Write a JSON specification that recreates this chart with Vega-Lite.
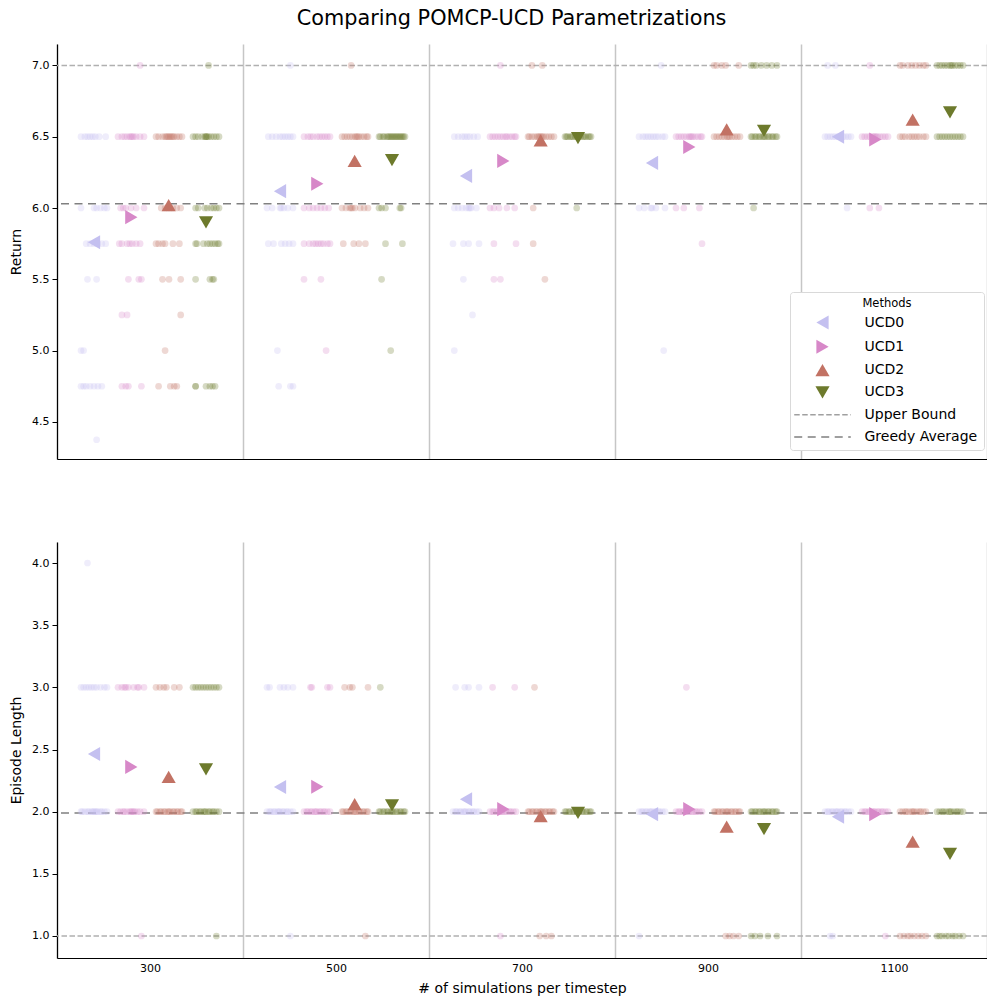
{
 "$schema": "https://vega.github.io/schema/vega-lite/v6.json",
 "title": {"text": "Comparing POMCP-UCD Parametrizations", "fontSize": 20.8, "fontWeight": "normal", "font": "DejaVu Sans", "color": "#000", "anchor": "middle", "offset": 14, "dx": 13},
 "padding": {"left": 9, "top": 8, "right": 0, "bottom": 2},
 "spacing": 83,
 "config": {
  "font": "DejaVu Sans",
  "view": {"stroke": null},
  "axis": {"labelFont": "DejaVu Sans", "labelFontSize": 11, "labelColor": "#000", "titleFont": "DejaVu Sans", "titleFontSize": 14, "titleFontWeight": "normal", "titleColor": "#000", "domainColor": "#000", "tickColor": "#000", "domainWidth": 1.2},
  "legend": {"labelFont": "DejaVu Sans", "titleFont": "DejaVu Sans"}
 },
 "datasets": {
  "linesR": [{"kind": "Upper Bound", "value": 7.0}, {"kind": "Greedy Average", "value": 6.03}],
  "linesE": [{"kind": "Upper Bound", "value": 1.0}, {"kind": "Greedy Average", "value": 1.99}],
  "meansR": [
   {"sims":300,"method":"UCD0","value":5.76},{"sims":300,"method":"UCD1","value":5.936},{"sims":300,"method":"UCD2","value":6.02},{"sims":300,"method":"UCD3","value":5.9},
   {"sims":500,"method":"UCD0","value":6.118},{"sims":500,"method":"UCD1","value":6.17},{"sims":500,"method":"UCD2","value":6.33},{"sims":500,"method":"UCD3","value":6.335},
   {"sims":700,"method":"UCD0","value":6.225},{"sims":700,"method":"UCD1","value":6.33},{"sims":700,"method":"UCD2","value":6.475},{"sims":700,"method":"UCD3","value":6.49},
   {"sims":900,"method":"UCD0","value":6.316},{"sims":900,"method":"UCD1","value":6.428},{"sims":900,"method":"UCD2","value":6.552},{"sims":900,"method":"UCD3","value":6.54},
   {"sims":1100,"method":"UCD0","value":6.5},{"sims":1100,"method":"UCD1","value":6.48},{"sims":1100,"method":"UCD2","value":6.62},{"sims":1100,"method":"UCD3","value":6.67}
  ],
  "meansE": [
   {"sims":300,"method":"UCD0","value":2.464},{"sims":300,"method":"UCD1","value":2.36},{"sims":300,"method":"UCD2","value":2.28},{"sims":300,"method":"UCD3","value":2.34},
   {"sims":500,"method":"UCD0","value":2.198},{"sims":500,"method":"UCD1","value":2.2},{"sims":500,"method":"UCD2","value":2.06},{"sims":500,"method":"UCD3","value":2.05},
   {"sims":700,"method":"UCD0","value":2.1},{"sims":700,"method":"UCD1","value":2.02},{"sims":700,"method":"UCD2","value":1.965},{"sims":700,"method":"UCD3","value":1.99},
   {"sims":900,"method":"UCD0","value":1.98},{"sims":900,"method":"UCD1","value":2.02},{"sims":900,"method":"UCD2","value":1.88},{"sims":900,"method":"UCD3","value":1.86},
   {"sims":1100,"method":"UCD0","value":1.96},{"sims":1100,"method":"UCD1","value":1.98},{"sims":1100,"method":"UCD2","value":1.76},{"sims":1100,"method":"UCD3","value":1.66}
  ],
  "R0": [
   {"sims":300,"value":6.5,"jitter":-10},{"sims":300,"value":6.5,"jitter":-7},{"sims":300,"value":6.5,"jitter":-5},{"sims":300,"value":6.5,"jitter":-3},{"sims":300,"value":6.5,"jitter":-1},{"sims":300,"value":6.5,"jitter":1},{"sims":300,"value":6.5,"jitter":4},{"sims":300,"value":6.5,"jitter":9},
   {"sims":300,"value":6.0,"jitter":-10},{"sims":300,"value":6.0,"jitter":0},{"sims":300,"value":6.0,"jitter":2},{"sims":300,"value":6.0,"jitter":5},{"sims":300,"value":6.0,"jitter":8},{"sims":300,"value":6.0,"jitter":10},
   {"sims":300,"value":5.75,"jitter":-6},{"sims":300,"value":5.75,"jitter":-3},{"sims":300,"value":5.75,"jitter":0},{"sims":300,"value":5.75,"jitter":3},{"sims":300,"value":5.75,"jitter":6},{"sims":300,"value":5.75,"jitter":9},
   {"sims":300,"value":5.5,"jitter":-5},{"sims":300,"value":5.5,"jitter":2},
   {"sims":300,"value":5.0,"jitter":-10},{"sims":300,"value":5.0,"jitter":-8},
   {"sims":300,"value":4.75,"jitter":-10},{"sims":300,"value":4.75,"jitter":-8},{"sims":300,"value":4.75,"jitter":-6},{"sims":300,"value":4.75,"jitter":-3},{"sims":300,"value":4.75,"jitter":0},{"sims":300,"value":4.75,"jitter":3},{"sims":300,"value":4.75,"jitter":6},
   {"sims":300,"value":4.375,"jitter":2},
   {"sims":500,"value":7.0,"jitter":8},
   {"sims":500,"value":6.5,"jitter":-9},{"sims":500,"value":6.5,"jitter":-6},{"sims":500,"value":6.5,"jitter":-3},{"sims":500,"value":6.5,"jitter":0},{"sims":500,"value":6.5,"jitter":2},{"sims":500,"value":6.5,"jitter":4},{"sims":500,"value":6.5,"jitter":6},{"sims":500,"value":6.5,"jitter":8},{"sims":500,"value":6.5,"jitter":10},
   {"sims":500,"value":6.0,"jitter":-10},{"sims":500,"value":6.0,"jitter":-6},{"sims":500,"value":6.0,"jitter":0},{"sims":500,"value":6.0,"jitter":1},{"sims":500,"value":6.0,"jitter":3},{"sims":500,"value":6.0,"jitter":6},{"sims":500,"value":6.0,"jitter":10},
   {"sims":500,"value":5.75,"jitter":-9},{"sims":500,"value":5.75,"jitter":-5},{"sims":500,"value":5.75,"jitter":1},{"sims":500,"value":5.75,"jitter":4},{"sims":500,"value":5.75,"jitter":7},{"sims":500,"value":5.75,"jitter":10},
   {"sims":500,"value":5.0,"jitter":-2},
   {"sims":500,"value":4.75,"jitter":-1},{"sims":500,"value":4.75,"jitter":8},{"sims":500,"value":4.75,"jitter":10},
   {"sims":700,"value":6.5,"jitter":-9},{"sims":700,"value":6.5,"jitter":-6},{"sims":700,"value":6.5,"jitter":-3},{"sims":700,"value":6.5,"jitter":-1},{"sims":700,"value":6.5,"jitter":1},{"sims":700,"value":6.5,"jitter":3},{"sims":700,"value":6.5,"jitter":6},{"sims":700,"value":6.5,"jitter":9},
   {"sims":700,"value":6.0,"jitter":-9},{"sims":700,"value":6.0,"jitter":-6},{"sims":700,"value":6.0,"jitter":-3},{"sims":700,"value":6.0,"jitter":0},{"sims":700,"value":6.0,"jitter":2},{"sims":700,"value":6.0,"jitter":3},{"sims":700,"value":6.0,"jitter":4},{"sims":700,"value":6.0,"jitter":8},
   {"sims":700,"value":5.75,"jitter":-10},{"sims":700,"value":5.75,"jitter":-2},{"sims":700,"value":5.75,"jitter":2},{"sims":700,"value":5.75,"jitter":10},
   {"sims":700,"value":5.5,"jitter":-2},{"sims":700,"value":5.25,"jitter":5},{"sims":700,"value":5.0,"jitter":-9},
   {"sims":900,"value":7.0,"jitter":7},
   {"sims":900,"value":6.5,"jitter":-10},{"sims":900,"value":6.5,"jitter":-7},{"sims":900,"value":6.5,"jitter":-5},{"sims":900,"value":6.5,"jitter":-3},{"sims":900,"value":6.5,"jitter":-1},{"sims":900,"value":6.5,"jitter":1},{"sims":900,"value":6.5,"jitter":3},{"sims":900,"value":6.5,"jitter":5},{"sims":900,"value":6.5,"jitter":8},{"sims":900,"value":6.5,"jitter":10},
   {"sims":900,"value":6.0,"jitter":-10},{"sims":900,"value":6.0,"jitter":-6},{"sims":900,"value":6.0,"jitter":-1},{"sims":900,"value":6.0,"jitter":0},{"sims":900,"value":6.0,"jitter":3},{"sims":900,"value":6.0,"jitter":10},
   {"sims":900,"value":5.0,"jitter":9},
   {"sims":1100,"value":7.0,"jitter":-8},{"sims":1100,"value":7.0,"jitter":-2},
   {"sims":1100,"value":6.5,"jitter":-10},{"sims":1100,"value":6.5,"jitter":-8},{"sims":1100,"value":6.5,"jitter":-6},{"sims":1100,"value":6.5,"jitter":-4},{"sims":1100,"value":6.5,"jitter":-2},{"sims":1100,"value":6.5,"jitter":0},{"sims":1100,"value":6.5,"jitter":2},{"sims":1100,"value":6.5,"jitter":4},{"sims":1100,"value":6.5,"jitter":6},{"sims":1100,"value":6.5,"jitter":8},{"sims":1100,"value":6.5,"jitter":10},
   {"sims":1100,"value":6.0,"jitter":7}
  ],
  "R1": [
   {"sims":300,"value":7.0,"jitter":7},
   {"sims":300,"value":6.5,"jitter":-10},{"sims":300,"value":6.5,"jitter":-7},{"sims":300,"value":6.5,"jitter":-5},{"sims":300,"value":6.5,"jitter":-3},{"sims":300,"value":6.5,"jitter":-1},{"sims":300,"value":6.5,"jitter":0},{"sims":300,"value":6.5,"jitter":1},{"sims":300,"value":6.5,"jitter":2},{"sims":300,"value":6.5,"jitter":4},{"sims":300,"value":6.5,"jitter":7},{"sims":300,"value":6.5,"jitter":10},
   {"sims":300,"value":6.0,"jitter":-8},{"sims":300,"value":6.0,"jitter":-6},{"sims":300,"value":6.0,"jitter":-4},{"sims":300,"value":6.0,"jitter":0},{"sims":300,"value":6.0,"jitter":4},{"sims":300,"value":6.0,"jitter":10},
   {"sims":300,"value":5.75,"jitter":-9},{"sims":300,"value":5.75,"jitter":-7},{"sims":300,"value":5.75,"jitter":-3},{"sims":300,"value":5.75,"jitter":-1},{"sims":300,"value":5.75,"jitter":1},{"sims":300,"value":5.75,"jitter":4},{"sims":300,"value":5.75,"jitter":7},
   {"sims":300,"value":5.5,"jitter":-2},{"sims":300,"value":5.5,"jitter":6},{"sims":300,"value":5.5,"jitter":8},
   {"sims":300,"value":5.25,"jitter":-7},{"sims":300,"value":5.25,"jitter":-3},
   {"sims":300,"value":4.75,"jitter":-7},{"sims":300,"value":4.75,"jitter":-4},{"sims":300,"value":4.75,"jitter":-2},{"sims":300,"value":4.75,"jitter":8},
   {"sims":500,"value":6.5,"jitter":-10},{"sims":500,"value":6.5,"jitter":-7},{"sims":500,"value":6.5,"jitter":-5},{"sims":500,"value":6.5,"jitter":-3},{"sims":500,"value":6.5,"jitter":0},{"sims":500,"value":6.5,"jitter":2},{"sims":500,"value":6.5,"jitter":4},{"sims":500,"value":6.5,"jitter":6},{"sims":500,"value":6.5,"jitter":8},{"sims":500,"value":6.5,"jitter":10},
   {"sims":500,"value":6.0,"jitter":-10},{"sims":500,"value":6.0,"jitter":-6},{"sims":500,"value":6.0,"jitter":-3},{"sims":500,"value":6.0,"jitter":0},{"sims":500,"value":6.0,"jitter":3},{"sims":500,"value":6.0,"jitter":6},{"sims":500,"value":6.0,"jitter":9},
   {"sims":500,"value":5.75,"jitter":-10},{"sims":500,"value":5.75,"jitter":-6},{"sims":500,"value":5.75,"jitter":-3},{"sims":500,"value":5.75,"jitter":-1},{"sims":500,"value":5.75,"jitter":1},{"sims":500,"value":5.75,"jitter":3},{"sims":500,"value":5.75,"jitter":5},{"sims":500,"value":5.75,"jitter":8},{"sims":500,"value":5.75,"jitter":10},
   {"sims":500,"value":5.5,"jitter":-10},{"sims":500,"value":5.5,"jitter":3},
   {"sims":500,"value":5.0,"jitter":7},
   {"sims":700,"value":7.0,"jitter":-2},
   {"sims":700,"value":6.5,"jitter":-10},{"sims":700,"value":6.5,"jitter":-8},{"sims":700,"value":6.5,"jitter":-6},{"sims":700,"value":6.5,"jitter":-4},{"sims":700,"value":6.5,"jitter":-2},{"sims":700,"value":6.5,"jitter":0},{"sims":700,"value":6.5,"jitter":2},{"sims":700,"value":6.5,"jitter":3},{"sims":700,"value":6.5,"jitter":5},{"sims":700,"value":6.5,"jitter":7},{"sims":700,"value":6.5,"jitter":9},{"sims":700,"value":6.5,"jitter":10},
   {"sims":700,"value":6.0,"jitter":-10},{"sims":700,"value":6.0,"jitter":-7},{"sims":700,"value":6.0,"jitter":-3},{"sims":700,"value":6.0,"jitter":3},{"sims":700,"value":6.0,"jitter":9},
   {"sims":700,"value":5.75,"jitter":-7},{"sims":700,"value":5.75,"jitter":10},
   {"sims":700,"value":5.5,"jitter":-7},{"sims":700,"value":5.5,"jitter":-2},
   {"sims":900,"value":6.5,"jitter":-10},{"sims":900,"value":6.5,"jitter":-8},{"sims":900,"value":6.5,"jitter":-6},{"sims":900,"value":6.5,"jitter":-4},{"sims":900,"value":6.5,"jitter":-2},{"sims":900,"value":6.5,"jitter":0},{"sims":900,"value":6.5,"jitter":1},{"sims":900,"value":6.5,"jitter":2},{"sims":900,"value":6.5,"jitter":3},{"sims":900,"value":6.5,"jitter":5},{"sims":900,"value":6.5,"jitter":7},{"sims":900,"value":6.5,"jitter":9},{"sims":900,"value":6.5,"jitter":10},
   {"sims":900,"value":6.0,"jitter":-10},{"sims":900,"value":6.0,"jitter":-4},{"sims":900,"value":6.0,"jitter":8},
   {"sims":900,"value":5.75,"jitter":10},
   {"sims":1100,"value":7.0,"jitter":-4},
   {"sims":1100,"value":6.5,"jitter":-10},{"sims":1100,"value":6.5,"jitter":-8},{"sims":1100,"value":6.5,"jitter":-6},{"sims":1100,"value":6.5,"jitter":-4},{"sims":1100,"value":6.5,"jitter":-2},{"sims":1100,"value":6.5,"jitter":-1},{"sims":1100,"value":6.5,"jitter":0},{"sims":1100,"value":6.5,"jitter":1},{"sims":1100,"value":6.5,"jitter":2},{"sims":1100,"value":6.5,"jitter":4},{"sims":1100,"value":6.5,"jitter":6},{"sims":1100,"value":6.5,"jitter":8},{"sims":1100,"value":6.5,"jitter":10},
   {"sims":1100,"value":6.0,"jitter":-4},{"sims":1100,"value":6.0,"jitter":3}
  ],
  "R2": [
   {"sims":300,"value":6.5,"jitter":-10},{"sims":300,"value":6.5,"jitter":-8},{"sims":300,"value":6.5,"jitter":-5},{"sims":300,"value":6.5,"jitter":-3},{"sims":300,"value":6.5,"jitter":-2},{"sims":300,"value":6.5,"jitter":-1},{"sims":300,"value":6.5,"jitter":0},{"sims":300,"value":6.5,"jitter":1},{"sims":300,"value":6.5,"jitter":2},{"sims":300,"value":6.5,"jitter":3},{"sims":300,"value":6.5,"jitter":4},{"sims":300,"value":6.5,"jitter":6},{"sims":300,"value":6.5,"jitter":8},{"sims":300,"value":6.5,"jitter":10},
   {"sims":300,"value":6.0,"jitter":-6},{"sims":300,"value":6.0,"jitter":-3},{"sims":300,"value":6.0,"jitter":-1},{"sims":300,"value":6.0,"jitter":1},{"sims":300,"value":6.0,"jitter":3},{"sims":300,"value":6.0,"jitter":6},{"sims":300,"value":6.0,"jitter":9},
   {"sims":300,"value":5.75,"jitter":-10},{"sims":300,"value":5.75,"jitter":-8},{"sims":300,"value":5.75,"jitter":-5},{"sims":300,"value":5.75,"jitter":-3},{"sims":300,"value":5.75,"jitter":3},{"sims":300,"value":5.75,"jitter":8},
   {"sims":300,"value":5.5,"jitter":-5},{"sims":300,"value":5.5,"jitter":0},{"sims":300,"value":5.5,"jitter":9},
   {"sims":300,"value":5.25,"jitter":9},{"sims":300,"value":5.0,"jitter":-3},
   {"sims":300,"value":4.75,"jitter":-8},{"sims":300,"value":4.75,"jitter":1},{"sims":300,"value":4.75,"jitter":4},{"sims":300,"value":4.75,"jitter":6},
   {"sims":500,"value":7.0,"jitter":-3},
   {"sims":500,"value":6.5,"jitter":-10},{"sims":500,"value":6.5,"jitter":-8},{"sims":500,"value":6.5,"jitter":-6},{"sims":500,"value":6.5,"jitter":-4},{"sims":500,"value":6.5,"jitter":-2},{"sims":500,"value":6.5,"jitter":0},{"sims":500,"value":6.5,"jitter":1},{"sims":500,"value":6.5,"jitter":2},{"sims":500,"value":6.5,"jitter":3},{"sims":500,"value":6.5,"jitter":5},{"sims":500,"value":6.5,"jitter":7},{"sims":500,"value":6.5,"jitter":9},{"sims":500,"value":6.5,"jitter":10},
   {"sims":500,"value":6.0,"jitter":-10},{"sims":500,"value":6.0,"jitter":-7},{"sims":500,"value":6.0,"jitter":-4},{"sims":500,"value":6.0,"jitter":-3},{"sims":500,"value":6.0,"jitter":-2},{"sims":500,"value":6.0,"jitter":0},{"sims":500,"value":6.0,"jitter":4},{"sims":500,"value":6.0,"jitter":7},{"sims":500,"value":6.0,"jitter":10},
   {"sims":500,"value":5.75,"jitter":-9},{"sims":500,"value":5.75,"jitter":-1},{"sims":500,"value":5.75,"jitter":3},{"sims":500,"value":5.75,"jitter":8},
   {"sims":700,"value":7.0,"jitter":-7},{"sims":700,"value":7.0,"jitter":1},
   {"sims":700,"value":6.5,"jitter":-10},{"sims":700,"value":6.5,"jitter":-9},{"sims":700,"value":6.5,"jitter":-7},{"sims":700,"value":6.5,"jitter":-5},{"sims":700,"value":6.5,"jitter":-3},{"sims":700,"value":6.5,"jitter":-2},{"sims":700,"value":6.5,"jitter":-1},{"sims":700,"value":6.5,"jitter":0},{"sims":700,"value":6.5,"jitter":1},{"sims":700,"value":6.5,"jitter":2},{"sims":700,"value":6.5,"jitter":4},{"sims":700,"value":6.5,"jitter":6},{"sims":700,"value":6.5,"jitter":8},{"sims":700,"value":6.5,"jitter":10},
   {"sims":700,"value":6.0,"jitter":-6},{"sims":700,"value":5.75,"jitter":-6},{"sims":700,"value":5.5,"jitter":3},
   {"sims":900,"value":7.0,"jitter":-10},{"sims":900,"value":7.0,"jitter":-8},{"sims":900,"value":7.0,"jitter":-4},{"sims":900,"value":7.0,"jitter":-1},{"sims":900,"value":7.0,"jitter":9},
   {"sims":900,"value":6.5,"jitter":-10},{"sims":900,"value":6.5,"jitter":-8},{"sims":900,"value":6.5,"jitter":-6},{"sims":900,"value":6.5,"jitter":-4},{"sims":900,"value":6.5,"jitter":-2},{"sims":900,"value":6.5,"jitter":0},{"sims":900,"value":6.5,"jitter":1},{"sims":900,"value":6.5,"jitter":2},{"sims":900,"value":6.5,"jitter":4},{"sims":900,"value":6.5,"jitter":6},{"sims":900,"value":6.5,"jitter":8},{"sims":900,"value":6.5,"jitter":10},
   {"sims":1100,"value":7.0,"jitter":-10},{"sims":1100,"value":7.0,"jitter":-8},{"sims":1100,"value":7.0,"jitter":-4},{"sims":1100,"value":7.0,"jitter":-1},{"sims":1100,"value":7.0,"jitter":2},{"sims":1100,"value":7.0,"jitter":5},{"sims":1100,"value":7.0,"jitter":8},{"sims":1100,"value":7.0,"jitter":10},
   {"sims":1100,"value":6.5,"jitter":-10},{"sims":1100,"value":6.5,"jitter":-8},{"sims":1100,"value":6.5,"jitter":-6},{"sims":1100,"value":6.5,"jitter":-3},{"sims":1100,"value":6.5,"jitter":-1},{"sims":1100,"value":6.5,"jitter":1},{"sims":1100,"value":6.5,"jitter":3},{"sims":1100,"value":6.5,"jitter":5},{"sims":1100,"value":6.5,"jitter":8},{"sims":1100,"value":6.5,"jitter":10}
  ],
  "R3": [
   {"sims":300,"value":7.0,"jitter":2},
   {"sims":300,"value":6.5,"jitter":-10},{"sims":300,"value":6.5,"jitter":-8},{"sims":300,"value":6.5,"jitter":-6},{"sims":300,"value":6.5,"jitter":-3},{"sims":300,"value":6.5,"jitter":-1},{"sims":300,"value":6.5,"jitter":0},{"sims":300,"value":6.5,"jitter":0},{"sims":300,"value":6.5,"jitter":1},{"sims":300,"value":6.5,"jitter":2},{"sims":300,"value":6.5,"jitter":4},{"sims":300,"value":6.5,"jitter":6},{"sims":300,"value":6.5,"jitter":8},{"sims":300,"value":6.5,"jitter":10},
   {"sims":300,"value":6.0,"jitter":-8},{"sims":300,"value":6.0,"jitter":-6},{"sims":300,"value":6.0,"jitter":-1},{"sims":300,"value":6.0,"jitter":1},{"sims":300,"value":6.0,"jitter":4},{"sims":300,"value":6.0,"jitter":6},{"sims":300,"value":6.0,"jitter":8},{"sims":300,"value":6.0,"jitter":10},
   {"sims":300,"value":5.75,"jitter":-8},{"sims":300,"value":5.75,"jitter":-7},{"sims":300,"value":5.75,"jitter":-2},{"sims":300,"value":5.75,"jitter":1},{"sims":300,"value":5.75,"jitter":3},{"sims":300,"value":5.75,"jitter":5},{"sims":300,"value":5.75,"jitter":7},{"sims":300,"value":5.75,"jitter":9},{"sims":300,"value":5.75,"jitter":10},
   {"sims":300,"value":5.5,"jitter":-8},{"sims":300,"value":5.5,"jitter":3},{"sims":300,"value":5.5,"jitter":5},{"sims":300,"value":5.5,"jitter":6},
   {"sims":300,"value":4.75,"jitter":-8},{"sims":300,"value":4.75,"jitter":-8},{"sims":300,"value":4.75,"jitter":0},{"sims":300,"value":4.75,"jitter":3},{"sims":300,"value":4.75,"jitter":5},{"sims":300,"value":4.75,"jitter":7},
   {"sims":500,"value":6.5,"jitter":-10},{"sims":500,"value":6.5,"jitter":-9},{"sims":500,"value":6.5,"jitter":-7},{"sims":500,"value":6.5,"jitter":-6},{"sims":500,"value":6.5,"jitter":-4},{"sims":500,"value":6.5,"jitter":-3},{"sims":500,"value":6.5,"jitter":-2},{"sims":500,"value":6.5,"jitter":-1},{"sims":500,"value":6.5,"jitter":0},{"sims":500,"value":6.5,"jitter":1},{"sims":500,"value":6.5,"jitter":2},{"sims":500,"value":6.5,"jitter":3},{"sims":500,"value":6.5,"jitter":4},{"sims":500,"value":6.5,"jitter":5},{"sims":500,"value":6.5,"jitter":6},{"sims":500,"value":6.5,"jitter":7},{"sims":500,"value":6.5,"jitter":8},{"sims":500,"value":6.5,"jitter":9},{"sims":500,"value":6.5,"jitter":10},
   {"sims":500,"value":6.0,"jitter":-10},{"sims":500,"value":6.0,"jitter":-8},{"sims":500,"value":6.0,"jitter":-5},{"sims":500,"value":6.0,"jitter":6},{"sims":500,"value":6.0,"jitter":7},
   {"sims":500,"value":5.75,"jitter":-5},{"sims":500,"value":5.75,"jitter":8},
   {"sims":500,"value":5.5,"jitter":-8},{"sims":500,"value":5.0,"jitter":-1},
   {"sims":700,"value":6.5,"jitter":-10},{"sims":700,"value":6.5,"jitter":-9},{"sims":700,"value":6.5,"jitter":-8},{"sims":700,"value":6.5,"jitter":-6},{"sims":700,"value":6.5,"jitter":-5},{"sims":700,"value":6.5,"jitter":-4},{"sims":700,"value":6.5,"jitter":-2},{"sims":700,"value":6.5,"jitter":-1},{"sims":700,"value":6.5,"jitter":0},{"sims":700,"value":6.5,"jitter":1},{"sims":700,"value":6.5,"jitter":2},{"sims":700,"value":6.5,"jitter":4},{"sims":700,"value":6.5,"jitter":5},{"sims":700,"value":6.5,"jitter":6},{"sims":700,"value":6.5,"jitter":8},{"sims":700,"value":6.5,"jitter":9},{"sims":700,"value":6.5,"jitter":10},
   {"sims":700,"value":6.0,"jitter":-1},
   {"sims":900,"value":7.0,"jitter":-10},{"sims":900,"value":7.0,"jitter":-8},{"sims":900,"value":7.0,"jitter":-6},{"sims":900,"value":7.0,"jitter":-2},{"sims":900,"value":7.0,"jitter":2},{"sims":900,"value":7.0,"jitter":6},{"sims":900,"value":7.0,"jitter":10},
   {"sims":900,"value":6.5,"jitter":-10},{"sims":900,"value":6.5,"jitter":-9},{"sims":900,"value":6.5,"jitter":-7},{"sims":900,"value":6.5,"jitter":-6},{"sims":900,"value":6.5,"jitter":-4},{"sims":900,"value":6.5,"jitter":-3},{"sims":900,"value":6.5,"jitter":-1},{"sims":900,"value":6.5,"jitter":0},{"sims":900,"value":6.5,"jitter":1},{"sims":900,"value":6.5,"jitter":3},{"sims":900,"value":6.5,"jitter":4},{"sims":900,"value":6.5,"jitter":6},{"sims":900,"value":6.5,"jitter":7},{"sims":900,"value":6.5,"jitter":9},{"sims":900,"value":6.5,"jitter":10},
   {"sims":900,"value":6.0,"jitter":-8},
   {"sims":1100,"value":7.0,"jitter":-10},{"sims":1100,"value":7.0,"jitter":-8},{"sims":1100,"value":7.0,"jitter":-6},{"sims":1100,"value":7.0,"jitter":-4},{"sims":1100,"value":7.0,"jitter":-2},{"sims":1100,"value":7.0,"jitter":0},{"sims":1100,"value":7.0,"jitter":1},{"sims":1100,"value":7.0,"jitter":2},{"sims":1100,"value":7.0,"jitter":4},{"sims":1100,"value":7.0,"jitter":6},{"sims":1100,"value":7.0,"jitter":8},{"sims":1100,"value":7.0,"jitter":10},
   {"sims":1100,"value":6.5,"jitter":-10},{"sims":1100,"value":6.5,"jitter":-8},{"sims":1100,"value":6.5,"jitter":-6},{"sims":1100,"value":6.5,"jitter":-4},{"sims":1100,"value":6.5,"jitter":-2},{"sims":1100,"value":6.5,"jitter":0},{"sims":1100,"value":6.5,"jitter":2},{"sims":1100,"value":6.5,"jitter":4},{"sims":1100,"value":6.5,"jitter":6},{"sims":1100,"value":6.5,"jitter":8},{"sims":1100,"value":6.5,"jitter":10}
  ],
  "E0": [
   {"sims":300,"value":4,"jitter":-5},
   {"sims":300,"value":3,"jitter":-10},{"sims":300,"value":3,"jitter":-8},{"sims":300,"value":3,"jitter":-6},{"sims":300,"value":3,"jitter":-4},{"sims":300,"value":3,"jitter":-2},{"sims":300,"value":3,"jitter":0},{"sims":300,"value":3,"jitter":2},{"sims":300,"value":3,"jitter":5},{"sims":300,"value":3,"jitter":8},{"sims":300,"value":3,"jitter":10},
   {"sims":300,"value":2,"jitter":-10},{"sims":300,"value":2,"jitter":-9},{"sims":300,"value":2,"jitter":-7},{"sims":300,"value":2,"jitter":-5},{"sims":300,"value":2,"jitter":-4},{"sims":300,"value":2,"jitter":-2},{"sims":300,"value":2,"jitter":-1},{"sims":300,"value":2,"jitter":0},{"sims":300,"value":2,"jitter":1},{"sims":300,"value":2,"jitter":2},{"sims":300,"value":2,"jitter":3},{"sims":300,"value":2,"jitter":5},{"sims":300,"value":2,"jitter":6},{"sims":300,"value":2,"jitter":8},{"sims":300,"value":2,"jitter":10},
   {"sims":500,"value":3,"jitter":-10},{"sims":500,"value":3,"jitter":-8},{"sims":500,"value":3,"jitter":0},{"sims":500,"value":3,"jitter":3},{"sims":500,"value":3,"jitter":6},{"sims":500,"value":3,"jitter":10},
   {"sims":500,"value":2,"jitter":-10},{"sims":500,"value":2,"jitter":-8},{"sims":500,"value":2,"jitter":-7},{"sims":500,"value":2,"jitter":-5},{"sims":500,"value":2,"jitter":-4},{"sims":500,"value":2,"jitter":-2},{"sims":500,"value":2,"jitter":-1},{"sims":500,"value":2,"jitter":0},{"sims":500,"value":2,"jitter":2},{"sims":500,"value":2,"jitter":3},{"sims":500,"value":2,"jitter":5},{"sims":500,"value":2,"jitter":6},{"sims":500,"value":2,"jitter":8},{"sims":500,"value":2,"jitter":10},
   {"sims":500,"value":1,"jitter":8},
   {"sims":700,"value":3,"jitter":-8},{"sims":700,"value":3,"jitter":-1},{"sims":700,"value":3,"jitter":2},{"sims":700,"value":3,"jitter":10},
   {"sims":700,"value":2,"jitter":-10},{"sims":700,"value":2,"jitter":-8},{"sims":700,"value":2,"jitter":-7},{"sims":700,"value":2,"jitter":-5},{"sims":700,"value":2,"jitter":-4},{"sims":700,"value":2,"jitter":-2},{"sims":700,"value":2,"jitter":-1},{"sims":700,"value":2,"jitter":0},{"sims":700,"value":2,"jitter":2},{"sims":700,"value":2,"jitter":3},{"sims":700,"value":2,"jitter":5},{"sims":700,"value":2,"jitter":6},{"sims":700,"value":2,"jitter":8},{"sims":700,"value":2,"jitter":10},
   {"sims":900,"value":2,"jitter":-10},{"sims":900,"value":2,"jitter":-8},{"sims":900,"value":2,"jitter":-7},{"sims":900,"value":2,"jitter":-5},{"sims":900,"value":2,"jitter":-4},{"sims":900,"value":2,"jitter":-2},{"sims":900,"value":2,"jitter":-1},{"sims":900,"value":2,"jitter":0},{"sims":900,"value":2,"jitter":2},{"sims":900,"value":2,"jitter":3},{"sims":900,"value":2,"jitter":5},{"sims":900,"value":2,"jitter":6},{"sims":900,"value":2,"jitter":8},{"sims":900,"value":2,"jitter":10},
   {"sims":900,"value":1,"jitter":-10},
   {"sims":1100,"value":2,"jitter":-10},{"sims":1100,"value":2,"jitter":-8},{"sims":1100,"value":2,"jitter":-7},{"sims":1100,"value":2,"jitter":-5},{"sims":1100,"value":2,"jitter":-4},{"sims":1100,"value":2,"jitter":-2},{"sims":1100,"value":2,"jitter":-1},{"sims":1100,"value":2,"jitter":0},{"sims":1100,"value":2,"jitter":2},{"sims":1100,"value":2,"jitter":3},{"sims":1100,"value":2,"jitter":5},{"sims":1100,"value":2,"jitter":6},{"sims":1100,"value":2,"jitter":8},{"sims":1100,"value":2,"jitter":10},
   {"sims":1100,"value":1,"jitter":-6},{"sims":1100,"value":1,"jitter":-4}
  ],
  "E1": [
   {"sims":300,"value":3,"jitter":-10},{"sims":300,"value":3,"jitter":-7},{"sims":300,"value":3,"jitter":-5},{"sims":300,"value":3,"jitter":-4},{"sims":300,"value":3,"jitter":-2},{"sims":300,"value":3,"jitter":2},{"sims":300,"value":3,"jitter":5},{"sims":300,"value":3,"jitter":6},{"sims":300,"value":3,"jitter":10},
   {"sims":300,"value":2,"jitter":-10},{"sims":300,"value":2,"jitter":-8},{"sims":300,"value":2,"jitter":-6},{"sims":300,"value":2,"jitter":-5},{"sims":300,"value":2,"jitter":-3},{"sims":300,"value":2,"jitter":-1},{"sims":300,"value":2,"jitter":0},{"sims":300,"value":2,"jitter":1},{"sims":300,"value":2,"jitter":2},{"sims":300,"value":2,"jitter":3},{"sims":300,"value":2,"jitter":5},{"sims":300,"value":2,"jitter":7},{"sims":300,"value":2,"jitter":10},
   {"sims":300,"value":1,"jitter":8},
   {"sims":500,"value":3,"jitter":-5},{"sims":500,"value":3,"jitter":-4},{"sims":500,"value":3,"jitter":8},{"sims":500,"value":3,"jitter":10},
   {"sims":500,"value":2,"jitter":-10},{"sims":500,"value":2,"jitter":-8},{"sims":500,"value":2,"jitter":-7},{"sims":500,"value":2,"jitter":-5},{"sims":500,"value":2,"jitter":-4},{"sims":500,"value":2,"jitter":-2},{"sims":500,"value":2,"jitter":-1},{"sims":500,"value":2,"jitter":0},{"sims":500,"value":2,"jitter":2},{"sims":500,"value":2,"jitter":3},{"sims":500,"value":2,"jitter":5},{"sims":500,"value":2,"jitter":6},{"sims":500,"value":2,"jitter":8},{"sims":500,"value":2,"jitter":10},
   {"sims":700,"value":3,"jitter":-8},{"sims":700,"value":3,"jitter":9},
   {"sims":700,"value":2,"jitter":-10},{"sims":700,"value":2,"jitter":-8},{"sims":700,"value":2,"jitter":-7},{"sims":700,"value":2,"jitter":-5},{"sims":700,"value":2,"jitter":-4},{"sims":700,"value":2,"jitter":-2},{"sims":700,"value":2,"jitter":-1},{"sims":700,"value":2,"jitter":0},{"sims":700,"value":2,"jitter":2},{"sims":700,"value":2,"jitter":3},{"sims":700,"value":2,"jitter":5},{"sims":700,"value":2,"jitter":6},{"sims":700,"value":2,"jitter":8},{"sims":700,"value":2,"jitter":10},
   {"sims":700,"value":1,"jitter":-2},
   {"sims":900,"value":3,"jitter":-2},
   {"sims":900,"value":2,"jitter":-10},{"sims":900,"value":2,"jitter":-8},{"sims":900,"value":2,"jitter":-7},{"sims":900,"value":2,"jitter":-5},{"sims":900,"value":2,"jitter":-4},{"sims":900,"value":2,"jitter":-2},{"sims":900,"value":2,"jitter":-1},{"sims":900,"value":2,"jitter":0},{"sims":900,"value":2,"jitter":2},{"sims":900,"value":2,"jitter":3},{"sims":900,"value":2,"jitter":5},{"sims":900,"value":2,"jitter":6},{"sims":900,"value":2,"jitter":8},{"sims":900,"value":2,"jitter":10},
   {"sims":1100,"value":2,"jitter":-10},{"sims":1100,"value":2,"jitter":-8},{"sims":1100,"value":2,"jitter":-7},{"sims":1100,"value":2,"jitter":-5},{"sims":1100,"value":2,"jitter":-4},{"sims":1100,"value":2,"jitter":-2},{"sims":1100,"value":2,"jitter":-1},{"sims":1100,"value":2,"jitter":0},{"sims":1100,"value":2,"jitter":2},{"sims":1100,"value":2,"jitter":3},{"sims":1100,"value":2,"jitter":5},{"sims":1100,"value":2,"jitter":6},{"sims":1100,"value":2,"jitter":8},{"sims":1100,"value":2,"jitter":10},
   {"sims":1100,"value":1,"jitter":8}
  ],
  "E2": [
   {"sims":300,"value":3,"jitter":-10},{"sims":300,"value":3,"jitter":-7},{"sims":300,"value":3,"jitter":-4},{"sims":300,"value":3,"jitter":-2},{"sims":300,"value":3,"jitter":4},{"sims":300,"value":3,"jitter":8},
   {"sims":300,"value":2,"jitter":-10},{"sims":300,"value":2,"jitter":-9},{"sims":300,"value":2,"jitter":-7},{"sims":300,"value":2,"jitter":-6},{"sims":300,"value":2,"jitter":-4},{"sims":300,"value":2,"jitter":-3},{"sims":300,"value":2,"jitter":-1},{"sims":300,"value":2,"jitter":0},{"sims":300,"value":2,"jitter":1},{"sims":300,"value":2,"jitter":3},{"sims":300,"value":2,"jitter":4},{"sims":300,"value":2,"jitter":6},{"sims":300,"value":2,"jitter":7},{"sims":300,"value":2,"jitter":9},{"sims":300,"value":2,"jitter":10},
   {"sims":500,"value":3,"jitter":-8},{"sims":500,"value":3,"jitter":-4},{"sims":500,"value":3,"jitter":-2},{"sims":500,"value":3,"jitter":10},
   {"sims":500,"value":2,"jitter":-10},{"sims":500,"value":2,"jitter":-9},{"sims":500,"value":2,"jitter":-7},{"sims":500,"value":2,"jitter":-6},{"sims":500,"value":2,"jitter":-4},{"sims":500,"value":2,"jitter":-3},{"sims":500,"value":2,"jitter":-1},{"sims":500,"value":2,"jitter":0},{"sims":500,"value":2,"jitter":1},{"sims":500,"value":2,"jitter":3},{"sims":500,"value":2,"jitter":4},{"sims":500,"value":2,"jitter":6},{"sims":500,"value":2,"jitter":7},{"sims":500,"value":2,"jitter":9},{"sims":500,"value":2,"jitter":10},
   {"sims":500,"value":1,"jitter":8},
   {"sims":700,"value":3,"jitter":-5},
   {"sims":700,"value":2,"jitter":-10},{"sims":700,"value":2,"jitter":-9},{"sims":700,"value":2,"jitter":-7},{"sims":700,"value":2,"jitter":-6},{"sims":700,"value":2,"jitter":-4},{"sims":700,"value":2,"jitter":-3},{"sims":700,"value":2,"jitter":-1},{"sims":700,"value":2,"jitter":0},{"sims":700,"value":2,"jitter":1},{"sims":700,"value":2,"jitter":3},{"sims":700,"value":2,"jitter":4},{"sims":700,"value":2,"jitter":6},{"sims":700,"value":2,"jitter":7},{"sims":700,"value":2,"jitter":9},{"sims":700,"value":2,"jitter":10},
   {"sims":700,"value":1,"jitter":-1},{"sims":700,"value":1,"jitter":4},{"sims":700,"value":1,"jitter":8},
   {"sims":900,"value":2,"jitter":-10},{"sims":900,"value":2,"jitter":-9},{"sims":900,"value":2,"jitter":-7},{"sims":900,"value":2,"jitter":-6},{"sims":900,"value":2,"jitter":-4},{"sims":900,"value":2,"jitter":-3},{"sims":900,"value":2,"jitter":-1},{"sims":900,"value":2,"jitter":0},{"sims":900,"value":2,"jitter":1},{"sims":900,"value":2,"jitter":3},{"sims":900,"value":2,"jitter":4},{"sims":900,"value":2,"jitter":6},{"sims":900,"value":2,"jitter":7},{"sims":900,"value":2,"jitter":9},{"sims":900,"value":2,"jitter":10},
   {"sims":900,"value":1,"jitter":-1},{"sims":900,"value":1,"jitter":2},{"sims":900,"value":1,"jitter":5},{"sims":900,"value":1,"jitter":9},
   {"sims":1100,"value":2,"jitter":-10},{"sims":1100,"value":2,"jitter":-8},{"sims":1100,"value":2,"jitter":-6},{"sims":1100,"value":2,"jitter":-5},{"sims":1100,"value":2,"jitter":-3},{"sims":1100,"value":2,"jitter":-1},{"sims":1100,"value":2,"jitter":0},{"sims":1100,"value":2,"jitter":1},{"sims":1100,"value":2,"jitter":3},{"sims":1100,"value":2,"jitter":5},{"sims":1100,"value":2,"jitter":6},{"sims":1100,"value":2,"jitter":8},{"sims":1100,"value":2,"jitter":10},
   {"sims":1100,"value":1,"jitter":-10},{"sims":1100,"value":1,"jitter":-7},{"sims":1100,"value":1,"jitter":-4},{"sims":1100,"value":1,"jitter":-2},{"sims":1100,"value":1,"jitter":1},{"sims":1100,"value":1,"jitter":4},{"sims":1100,"value":1,"jitter":7},{"sims":1100,"value":1,"jitter":10}
  ],
  "E3": [
   {"sims":300,"value":3,"jitter":-10},{"sims":300,"value":3,"jitter":-8},{"sims":300,"value":3,"jitter":-6},{"sims":300,"value":3,"jitter":-4},{"sims":300,"value":3,"jitter":-2},{"sims":300,"value":3,"jitter":0},{"sims":300,"value":3,"jitter":2},{"sims":300,"value":3,"jitter":4},{"sims":300,"value":3,"jitter":6},{"sims":300,"value":3,"jitter":8},{"sims":300,"value":3,"jitter":10},
   {"sims":300,"value":2,"jitter":-10},{"sims":300,"value":2,"jitter":-8},{"sims":300,"value":2,"jitter":-7},{"sims":300,"value":2,"jitter":-5},{"sims":300,"value":2,"jitter":-4},{"sims":300,"value":2,"jitter":-2},{"sims":300,"value":2,"jitter":-1},{"sims":300,"value":2,"jitter":0},{"sims":300,"value":2,"jitter":2},{"sims":300,"value":2,"jitter":3},{"sims":300,"value":2,"jitter":5},{"sims":300,"value":2,"jitter":6},{"sims":300,"value":2,"jitter":8},{"sims":300,"value":2,"jitter":10},
   {"sims":300,"value":1,"jitter":8},
   {"sims":500,"value":3,"jitter":-9},
   {"sims":500,"value":2,"jitter":-10},{"sims":500,"value":2,"jitter":-9},{"sims":500,"value":2,"jitter":-7},{"sims":500,"value":2,"jitter":-6},{"sims":500,"value":2,"jitter":-4},{"sims":500,"value":2,"jitter":-3},{"sims":500,"value":2,"jitter":-1},{"sims":500,"value":2,"jitter":0},{"sims":500,"value":2,"jitter":1},{"sims":500,"value":2,"jitter":3},{"sims":500,"value":2,"jitter":4},{"sims":500,"value":2,"jitter":6},{"sims":500,"value":2,"jitter":7},{"sims":500,"value":2,"jitter":9},{"sims":500,"value":2,"jitter":10},
   {"sims":700,"value":2,"jitter":-10},{"sims":700,"value":2,"jitter":-9},{"sims":700,"value":2,"jitter":-7},{"sims":700,"value":2,"jitter":-6},{"sims":700,"value":2,"jitter":-4},{"sims":700,"value":2,"jitter":-3},{"sims":700,"value":2,"jitter":-1},{"sims":700,"value":2,"jitter":0},{"sims":700,"value":2,"jitter":1},{"sims":700,"value":2,"jitter":3},{"sims":700,"value":2,"jitter":4},{"sims":700,"value":2,"jitter":6},{"sims":700,"value":2,"jitter":7},{"sims":700,"value":2,"jitter":9},{"sims":700,"value":2,"jitter":10},
   {"sims":900,"value":2,"jitter":-10},{"sims":900,"value":2,"jitter":-9},{"sims":900,"value":2,"jitter":-7},{"sims":900,"value":2,"jitter":-6},{"sims":900,"value":2,"jitter":-4},{"sims":900,"value":2,"jitter":-3},{"sims":900,"value":2,"jitter":-1},{"sims":900,"value":2,"jitter":0},{"sims":900,"value":2,"jitter":1},{"sims":900,"value":2,"jitter":3},{"sims":900,"value":2,"jitter":4},{"sims":900,"value":2,"jitter":6},{"sims":900,"value":2,"jitter":7},{"sims":900,"value":2,"jitter":9},{"sims":900,"value":2,"jitter":10},
   {"sims":900,"value":1,"jitter":-10},{"sims":900,"value":1,"jitter":-7},{"sims":900,"value":1,"jitter":-3},{"sims":900,"value":1,"jitter":3},{"sims":900,"value":1,"jitter":10},
   {"sims":1100,"value":2,"jitter":-10},{"sims":1100,"value":2,"jitter":-8},{"sims":1100,"value":2,"jitter":-6},{"sims":1100,"value":2,"jitter":-5},{"sims":1100,"value":2,"jitter":-3},{"sims":1100,"value":2,"jitter":-1},{"sims":1100,"value":2,"jitter":0},{"sims":1100,"value":2,"jitter":1},{"sims":1100,"value":2,"jitter":3},{"sims":1100,"value":2,"jitter":5},{"sims":1100,"value":2,"jitter":6},{"sims":1100,"value":2,"jitter":8},{"sims":1100,"value":2,"jitter":10},
   {"sims":1100,"value":1,"jitter":-10},{"sims":1100,"value":1,"jitter":-8},{"sims":1100,"value":1,"jitter":-6},{"sims":1100,"value":1,"jitter":-3},{"sims":1100,"value":1,"jitter":-1},{"sims":1100,"value":1,"jitter":2},{"sims":1100,"value":1,"jitter":4},{"sims":1100,"value":1,"jitter":7},{"sims":1100,"value":1,"jitter":10}
  ]
 },
 "resolve": {"scale": {"color": "independent", "shape": "independent", "xOffset": "independent"}, "legend": {"color": "independent", "shape": "independent"}},
 "vconcat": [
  {
   "width": 930, "height": 415,
   "encoding": {"y": {"field": "value", "type": "quantitative", "scale": {"domain": [4.24, 7.15], "nice": false, "zero": false}, "axis": {"title": "Return", "values": [4.5, 5, 5.5, 6, 6.5, 7], "format": ".1f", "grid": false, "tickSize": 5, "labelPadding": 3, "titlePadding": 8}}},
   "layer": [
    {"data": {"name": "linesR"}, "transform": [{"filter": "datum.kind === 'Upper Bound'"}], "mark": {"type": "rule", "color": "#b0b0b0", "strokeWidth": 1.5, "strokeDash": [5.5, 2.5]}, "encoding": {}},
    {"data": {"name": "linesR"}, "transform": [{"filter": "datum.kind === 'Greedy Average'"}], "mark": {"type": "rule", "color": "#808080", "strokeWidth": 1.5, "strokeDash": [8, 5.5]}, "encoding": {}},
    {"data": {"name": "R0"}, "mark": {"type": "circle", "size": 45, "opacity": 0.28, "color": "#c4c0f0"}, "encoding": {"x": {"field": "sims", "type": "ordinal", "scale": {"domain": [300, 500, 700, 900, 1100], "paddingInner": 0, "paddingOuter": 0}, "axis": {"title": null, "labels": false, "ticks": false, "grid": true, "tickBand": "extent", "gridColor": "#c6c6c6", "gridWidth": 1.5}}, "xOffset": {"field": "jitter", "type": "quantitative", "scale": {"domain": [-10, 10], "range": [24, 50]}}}},
    {"data": {"name": "R1"}, "mark": {"type": "circle", "size": 45, "opacity": 0.28, "color": "#d788c8"}, "encoding": {"x": {"field": "sims", "type": "ordinal", "scale": {"domain": [300, 500, 700, 900, 1100], "paddingInner": 0, "paddingOuter": 0}, "axis": {"title": null, "labels": false, "ticks": false, "grid": true, "tickBand": "extent", "gridColor": "#c6c6c6", "gridWidth": 1.5}}, "xOffset": {"field": "jitter", "type": "quantitative", "scale": {"domain": [-10, 10], "range": [61, 87]}}}},
    {"data": {"name": "R2"}, "mark": {"type": "circle", "size": 45, "opacity": 0.28, "color": "#c27264"}, "encoding": {"x": {"field": "sims", "type": "ordinal", "scale": {"domain": [300, 500, 700, 900, 1100], "paddingInner": 0, "paddingOuter": 0}, "axis": {"title": null, "labels": false, "ticks": false, "grid": true, "tickBand": "extent", "gridColor": "#c6c6c6", "gridWidth": 1.5}}, "xOffset": {"field": "jitter", "type": "quantitative", "scale": {"domain": [-10, 10], "range": [99, 125]}}}},
    {"data": {"name": "R3"}, "mark": {"type": "circle", "size": 45, "opacity": 0.28, "color": "#6d7a2c"}, "encoding": {"x": {"field": "sims", "type": "ordinal", "scale": {"domain": [300, 500, 700, 900, 1100], "paddingInner": 0, "paddingOuter": 0}, "axis": {"title": null, "labels": false, "ticks": false, "grid": true, "tickBand": "extent", "gridColor": "#c6c6c6", "gridWidth": 1.5}}, "xOffset": {"field": "jitter", "type": "quantitative", "scale": {"domain": [-10, 10], "range": [136, 162]}}}},
    {"data": {"name": "meansR"}, "mark": {"type": "point", "filled": true, "opacity": 1, "size": 200},
     "encoding": {
      "x": {"field": "sims", "type": "ordinal", "scale": {"domain": [300, 500, 700, 900, 1100], "paddingInner": 0, "paddingOuter": 0}, "axis": {"title": null, "labels": false, "ticks": false, "grid": true, "tickBand": "extent", "gridColor": "#c6c6c6", "gridWidth": 1.5}},
      "xOffset": {"field": "method", "type": "nominal", "scale": {"domain": ["UCD0", "UCD1", "UCD2", "UCD3"], "range": [37, 149], "paddingOuter": 0}},
      "color": {"field": "method", "type": "nominal", "scale": {"domain": ["UCD0", "UCD1", "UCD2", "UCD3", "Upper Bound", "Greedy Average"], "range": ["#c4c0f0", "#d788c8", "#c27264", "#6d7a2c", "#a0a0a0", "#808080"]},
       "legend": {"title": "Methods", "orient": "none", "legendX": 733, "legendY": 248, "padding": 6, "strokeColor": "#d9d9d9", "fillColor": "#ffffff", "cornerRadius": 3, "titleFontSize": 11.5, "titleFontWeight": "normal", "titleColor": "#000", "titleAnchor": "middle", "titlePadding": 6, "labelFontSize": 14, "labelColor": "#000", "symbolSize": 200, "symbolOffset": 19.5, "labelOffset": 35, "rowPadding": 8.3,
        "symbolStrokeWidth": {"expr": "(datum.value === 'Upper Bound' || datum.value === 'Greedy Average') ? 1.5 : 0"},
        "symbolStrokeColor": {"expr": "datum.value === 'Upper Bound' ? '#a0a0a0' : (datum.value === 'Greedy Average' ? '#808080' : 'transparent')"},
        "symbolDash": {"expr": "datum.value === 'Upper Bound' ? [5.5, 2.5] : (datum.value === 'Greedy Average' ? [8, 5.5] : [])"}}},
      "shape": {"field": "method", "type": "nominal", "scale": {"domain": ["UCD0", "UCD1", "UCD2", "UCD3", "Upper Bound", "Greedy Average"], "range": ["triangle-left", "triangle-right", "triangle-up", "triangle-down", "M-4,0H4", "M-4,0H4"]},
       "legend": {"title": "Methods", "orient": "none", "legendX": 733, "legendY": 248, "padding": 6, "strokeColor": "#d9d9d9", "fillColor": "#ffffff", "cornerRadius": 3, "titleFontSize": 11.5, "titleFontWeight": "normal", "titleColor": "#000", "titleAnchor": "middle", "titlePadding": 6, "labelFontSize": 14, "labelColor": "#000", "symbolSize": 200, "symbolOffset": 19.5, "labelOffset": 35, "rowPadding": 8.3,
        "symbolStrokeWidth": {"expr": "(datum.value === 'Upper Bound' || datum.value === 'Greedy Average') ? 1.5 : 0"},
        "symbolStrokeColor": {"expr": "datum.value === 'Upper Bound' ? '#a0a0a0' : (datum.value === 'Greedy Average' ? '#808080' : 'transparent')"},
        "symbolDash": {"expr": "datum.value === 'Upper Bound' ? [5.5, 2.5] : (datum.value === 'Greedy Average' ? [8, 5.5] : [])"}}}
     }}
   ],
   "resolve": {"scale": {"xOffset": "independent"}}
  },
  {
   "width": 930, "height": 416,
   "encoding": {"y": {"field": "value", "type": "quantitative", "scale": {"domain": [0.823, 4.169], "nice": false, "zero": false}, "axis": {"title": "Episode Length", "values": [1, 1.5, 2, 2.5, 3, 3.5, 4], "format": ".1f", "grid": false, "tickSize": 5, "labelPadding": 3, "titlePadding": 8}}},
   "layer": [
    {"data": {"name": "linesE"}, "transform": [{"filter": "datum.kind === 'Upper Bound'"}], "mark": {"type": "rule", "color": "#b0b0b0", "strokeWidth": 1.5, "strokeDash": [5.5, 2.5]}, "encoding": {}},
    {"data": {"name": "linesE"}, "transform": [{"filter": "datum.kind === 'Greedy Average'"}], "mark": {"type": "rule", "color": "#808080", "strokeWidth": 1.5, "strokeDash": [8, 5.5]}, "encoding": {}},
    {"data": {"name": "E0"}, "mark": {"type": "circle", "size": 45, "opacity": 0.28, "color": "#c4c0f0"}, "encoding": {"x": {"field": "sims", "type": "ordinal", "scale": {"domain": [300, 500, 700, 900, 1100], "paddingInner": 0, "paddingOuter": 0}, "axis": {"title": "# of simulations per timestep", "labelAngle": 0, "ticks": false, "grid": true, "tickBand": "extent", "gridColor": "#c6c6c6", "gridWidth": 1.5, "labelPadding": 4, "titlePadding": 8}}, "xOffset": {"field": "jitter", "type": "quantitative", "scale": {"domain": [-10, 10], "range": [24, 50]}}}},
    {"data": {"name": "E1"}, "mark": {"type": "circle", "size": 45, "opacity": 0.28, "color": "#d788c8"}, "encoding": {"x": {"field": "sims", "type": "ordinal", "scale": {"domain": [300, 500, 700, 900, 1100], "paddingInner": 0, "paddingOuter": 0}, "axis": {"title": "# of simulations per timestep", "labelAngle": 0, "ticks": false, "grid": true, "tickBand": "extent", "gridColor": "#c6c6c6", "gridWidth": 1.5, "labelPadding": 4, "titlePadding": 8}}, "xOffset": {"field": "jitter", "type": "quantitative", "scale": {"domain": [-10, 10], "range": [61, 87]}}}},
    {"data": {"name": "E2"}, "mark": {"type": "circle", "size": 45, "opacity": 0.28, "color": "#c27264"}, "encoding": {"x": {"field": "sims", "type": "ordinal", "scale": {"domain": [300, 500, 700, 900, 1100], "paddingInner": 0, "paddingOuter": 0}, "axis": {"title": "# of simulations per timestep", "labelAngle": 0, "ticks": false, "grid": true, "tickBand": "extent", "gridColor": "#c6c6c6", "gridWidth": 1.5, "labelPadding": 4, "titlePadding": 8}}, "xOffset": {"field": "jitter", "type": "quantitative", "scale": {"domain": [-10, 10], "range": [99, 125]}}}},
    {"data": {"name": "E3"}, "mark": {"type": "circle", "size": 45, "opacity": 0.28, "color": "#6d7a2c"}, "encoding": {"x": {"field": "sims", "type": "ordinal", "scale": {"domain": [300, 500, 700, 900, 1100], "paddingInner": 0, "paddingOuter": 0}, "axis": {"title": "# of simulations per timestep", "labelAngle": 0, "ticks": false, "grid": true, "tickBand": "extent", "gridColor": "#c6c6c6", "gridWidth": 1.5, "labelPadding": 4, "titlePadding": 8}}, "xOffset": {"field": "jitter", "type": "quantitative", "scale": {"domain": [-10, 10], "range": [136, 162]}}}},
    {"data": {"name": "meansE"}, "mark": {"type": "point", "filled": true, "opacity": 1, "size": 200},
     "encoding": {
      "x": {"field": "sims", "type": "ordinal", "scale": {"domain": [300, 500, 700, 900, 1100], "paddingInner": 0, "paddingOuter": 0}, "axis": {"title": "# of simulations per timestep", "labelAngle": 0, "ticks": false, "grid": true, "tickBand": "extent", "gridColor": "#c6c6c6", "gridWidth": 1.5, "labelPadding": 4, "titlePadding": 8}},
      "xOffset": {"field": "method", "type": "nominal", "scale": {"domain": ["UCD0", "UCD1", "UCD2", "UCD3"], "range": [37, 149], "paddingOuter": 0}},
      "color": {"field": "method", "type": "nominal", "scale": {"domain": ["UCD0", "UCD1", "UCD2", "UCD3"], "range": ["#c4c0f0", "#d788c8", "#c27264", "#6d7a2c"]}, "legend": null},
      "shape": {"field": "method", "type": "nominal", "scale": {"domain": ["UCD0", "UCD1", "UCD2", "UCD3"], "range": ["triangle-left", "triangle-right", "triangle-up", "triangle-down"]}, "legend": null}
     }}
   ],
   "resolve": {"scale": {"xOffset": "independent"}}
  }
 ]
}
